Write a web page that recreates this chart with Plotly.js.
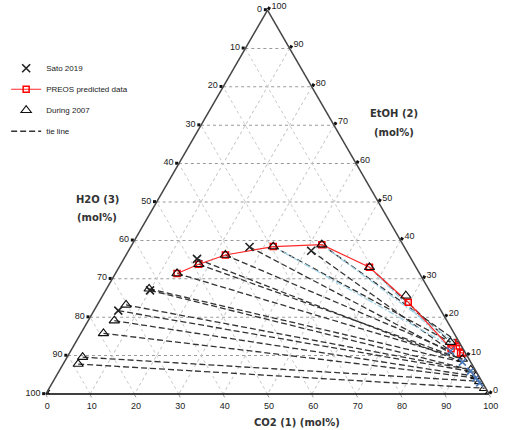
<!DOCTYPE html>
<html><head><meta charset="utf-8">
<script src="https://cdn.plot.ly/plotly-3.0.1.min.js"></script>
<style>html,body{margin:0;padding:0;background:#fff}#chart{width:513px;height:430px}</style>
</head><body><div id="chart"></div>
<script>
// Compositions in mol%: CO2 (1), EtOH (2); H2O (3) = 100 - CO2 - EtOH
const tickVals = [0,10,20,30,40,50,60,70,80,90,100];

const satoCO2  = [0, 5.5, 10.0, 16.5, 26.8, 41.2];
const satoEtOH = [0, 21.7, 27.0, 35.2, 38.3, 37.3];
const satoVapCO2  = [85.7, 89.8, 92.8, 94.9, 96.4];
const satoVapEtOH = [11.2, 8.3, 5.9, 4.2, 2.9];

const preosCO2  = [13.9, 17.6, 22.4, 32.1, 42.8, 56.5, 69.8, 85.5, 86.4, 87.0, 88.2, 88.7];
const preosEtOH = [31.4, 33.8, 36.2, 38.4, 38.9, 33.0, 23.9, 11.8, 13.4, 12.5, 10.7, 10.7];

const duringCO2  = [0, 3.4, 3.5, 5.1, 5.9, 6.5, 9.6, 13.9, 17.6, 22.4, 32.1, 42.8, 56.5, 68.4, 84.5, 89.4, 92.7, 94.7, 96.2, 98.2, 99.9];
const duringEtOH = [0, 7.8, 9.6, 15.8, 19.1, 23.2, 27.4, 31.4, 33.8, 36.2, 38.4, 38.9, 33.0, 25.6, 13.5, 9.1, 6.3, 4.6, 3.3, 1.5, 0.1];

// tie lines: liquid end -> vapour end
const tieLiqCO2  = [3.4, 3.5, 5.1, 5.9, 5.5, 6.5, 9.6, 10.0, 13.9, 16.5, 17.6, 22.4, 26.8, 32.1, 41.2, 42.8, 56.5];
const tieLiqEtOH = [7.8, 9.6, 15.8, 19.1, 21.7, 23.2, 27.4, 27.0, 31.4, 35.2, 33.8, 36.2, 38.3, 38.4, 37.3, 38.9, 33.0];
const tieVapCO2  = [98.2, 96.2, 94.9, 94.7, 92.8, 92.7, 89.8, 92.7, 89.4, 89.8, 89.4, 85.7, 89.4, 84.5, 85.7, 86.4, 84.5];
const tieVapEtOH = [1.5, 3.3, 4.2, 4.6, 5.9, 6.3, 8.3, 6.3, 9.1, 8.3, 9.1, 11.2, 9.1, 13.5, 11.2, 13.4, 13.5];

// PREOS predicted tie lines (light blue)
const predLiqCO2  = [32.1, 42.8, 56.5];
const predLiqEtOH = [38.4, 38.9, 33.0];
const predVapCO2  = [88.7, 87.0, 85.5];
const predVapEtOH = [10.7, 12.5, 11.8];

function tern(co2, etoh){
  return {a: etoh.slice(), b: co2.map((c,i)=>c==null?null:100-c-etoh[i]), c: co2.slice()};
}
function segs(l1,l2,v1,v2){
  const co2=[], et=[];
  l1.forEach((v,i)=>{ co2.push(v, v1[i], null); et.push(l2[i], v2[i], null); });
  return tern(co2, et);
}

const tie = segs(tieLiqCO2, tieLiqEtOH, tieVapCO2, tieVapEtOH);
const pred = segs(predLiqCO2, predLiqEtOH, predVapCO2, predVapEtOH);
const sato = tern(satoCO2, satoEtOH);
const satoV = tern(satoVapCO2, satoVapEtOH);
const preos = tern(preosCO2, preosEtOH);
const during = tern(duringCO2, duringEtOH);

const traces = [
  {type:'scatterternary', mode:'lines', a:tie.a, b:tie.b, c:tie.c, name:'tie line',
   line:{color:'#333', width:1.3, dash:'6px,3px'}, connectgaps:false, legendrank:4, legendgroup:'g4', hoverinfo:'skip'},
  {type:'scatterternary', mode:'lines', a:pred.a, b:pred.b, c:pred.c, showlegend:false,
   line:{color:'#9fd0e6', width:1.3, dash:'6px,2px,2px,2px'}, connectgaps:false, hoverinfo:'skip'},
  {type:'scatterternary', mode:'lines+markers', a:preos.a, b:preos.b, c:preos.c, name:'PREOS predicted data',
   line:{color:'#ff2a2a', width:1.2}, marker:{symbol:'square-open', size:6, color:'#ff0000', line:{width:1.5}},
   legendrank:2, legendgroup:'g2', hoverinfo:'skip'},
  {type:'scatterternary', mode:'markers', a:during.a, b:during.b, c:during.c, name:'During 2007',
   marker:{symbol:'triangle-up-open', size:9, color:'#111', line:{width:1.1}}, legendrank:3, legendgroup:'g3', hoverinfo:'skip'},
  {type:'scatterternary', mode:'markers', a:sato.a, b:sato.b, c:sato.c, name:'Sato 2019',
   marker:{symbol:'x-thin-open', size:8, color:'#222', line:{width:1.6, color:'#222'}}, legendrank:1, legendgroup:'g1', hoverinfo:'skip'},
  {type:'scatterternary', mode:'markers', a:satoV.a, b:satoV.b, c:satoV.c, showlegend:false,
   marker:{symbol:'x-thin-open', size:7, color:'#4a78b8', line:{width:1.6, color:'#4a78b8'}}, hoverinfo:'skip'}
];

function axis(gridcolor, lineColor){
  return {
    min:0, tickmode:'array', tickvals:tickVals, ticktext:tickVals.map(v=>String(100-v)),
    tickfont:{family:'Liberation Sans, Arial, sans-serif', size:9, color:'#222'},
    ticks:'outside', ticklen:3, tickwidth:3, tickcolor:'#111',
    showline:true, linecolor:lineColor, linewidth:1.5,
    showgrid:true, gridcolor:gridcolor, gridwidth:1, griddash:'dot',
    title:{text:''}
  };
}

const tfont = {family:'DejaVu Sans, Verdana, sans-serif', size:10, color:'#333', weight:'bold'};
function ann(text, px, py){
  return {text:text, x:px/513, y:1-py/430, xref:'paper', yref:'paper', xanchor:'center', yanchor:'middle', showarrow:false, font:tfont};
}
const layout = {
  width:513, height:430, margin:{l:0,r:0,t:0,b:0},
  paper_bgcolor:'#fff', showlegend:true,
  ternary:{
    sum:100, bgcolor:'rgba(0,0,0,0)',
    domain:{x:[0.0893,0.9536], y:[0.0837,0.9767]},
    aaxis: axis('#9a9a9a','#444'),
    baxis: Object.assign(axis('#c8c8c8','#000'), {ticks:'outside', tickwidth:1, ticklen:3, tickcolor:'#999'}),
    caxis: axis('#c8c8c8','#444')
  },
  legend:{x:0.012, y:0.875, xanchor:'left', yanchor:'top', bgcolor:'rgba(0,0,0,0)',
    font:{family:'Liberation Sans, Arial, sans-serif', size:8, color:'#222'}, tracegroupgap:2},
  annotations:[
    ann('<b>EtOH (2)</b>', 394, 114),
    ann('<b>(mol%)</b>', 394, 132),
    ann('<b>H2O (3)</b>', 97, 199),
    ann('<b>(mol%)</b>', 97, 217),
    ann('<b>CO2 (1) (mol%)</b>', 297, 422)
  ]
};

Plotly.newPlot('chart', traces, layout, {staticPlot:true, displayModeBar:false});
</script></body></html>
